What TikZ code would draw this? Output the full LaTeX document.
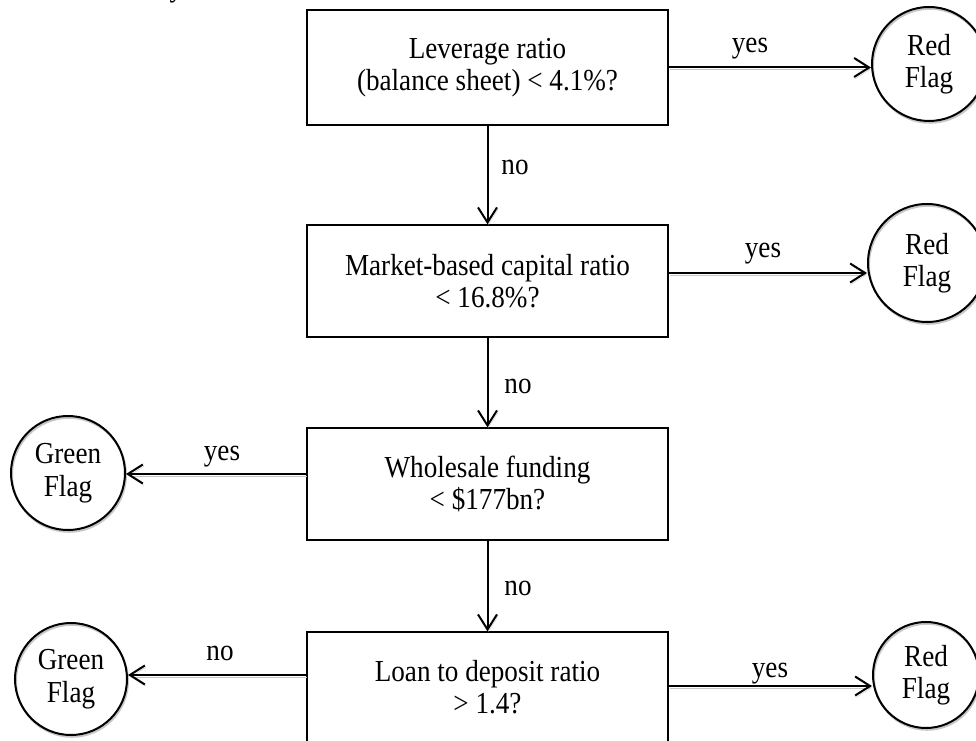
\documentclass[tikz,border=0pt]{standalone}
\usepackage{fontspec}
\setmainfont{Liberation Serif}[FakeStretch=0.89]
\usetikzlibrary{arrows.meta,calc}
\begin{document}
\begin{tikzpicture}[x=1pt,y=1pt,
  every node/.style={font=\fontsize{30.5}{32.5}\selectfont},
  qbox/.style={draw, line width=1.4pt, rectangle, minimum width=361pt, align=center, inner sep=0pt},
  flag/.style={draw, line width=2pt, circle, inner sep=0pt, align=center,
    preaction={draw=black!22, line width=2pt, transform canvas={shift={(1pt,-1.8pt)}}}},
  arr/.style={line width=2pt, -{Straight Barb[length=15pt,width=19pt,line width=2pt]},
    preaction={draw=black!22, transform canvas={shift={(1pt,-1.8pt)}}}},
  lab/.style={anchor=base}
]
\useasboundingbox (0,0) rectangle (976,740);

% fragment of a cut-off text at the top
\node[lab, anchor=base west] (frag) at (166,743) {y};

% question boxes
\node[qbox, minimum height=115pt] (b1) at (487.5,672.5) {Leverage ratio\\(balance sheet) < 4.1\%?};
\node[qbox, minimum height=112pt] (b2) at (487.5,459) {Market-based capital ratio\\< 16.8\%?};
\node[qbox, minimum height=112pt] (b3) at (487.5,256) {Wholesale funding\\< \$177bn?};
\node[qbox, minimum height=110pt] (b4) at (487.5,53) {Loan to deposit ratio\\> 1.4?};

% flags
\node[flag, minimum size=114pt] (r1) at (929,676) {Red\\Flag};
\node[flag, minimum size=118pt] (r2) at (927,477) {Red\\Flag};
\node[flag, minimum size=106pt] (r3) at (926,65) {Red\\Flag};
\node[flag, minimum size=114pt] (g1) at (68,267) {Green\\Flag};
\node[flag, minimum size=112pt] (g2) at (71,61) {Green\\Flag};

% vertical "no" connectors
\draw[arr] (b1.south) -- (b2.north);
\draw[arr] (b2.south) -- (b3.north);
\draw[arr] (b3.south) -- (b4.north);
\node[lab] (n1) at (515,565) {no};
\node[lab] (n2) at (518,347) {no};
\node[lab] (n3) at (518,145) {no};

% horizontal connectors
\draw[arr] (b1.east) -- (b1.east -| r1.west);
\node[lab] (y1) at (750,687) {yes};
\draw[arr] ([yshift=8pt]b2.east) -- ([yshift=8pt]b2.east -| r2.west);
\node[lab] (y2) at (763,482) {yes};
\draw[arr] ([yshift=10pt]b3.west) -- ([yshift=10pt]b3.west -| g1.east);
\node[lab] (y3) at (222,280) {yes};
\draw[arr] ([yshift=12pt]b4.west) -- ([yshift=12pt]b4.west -| g2.east);
\node[lab] (n4) at (220,80) {no};
\draw[arr] ([yshift=1pt]b4.east) -- ([yshift=1pt]b4.east -| r3.west);
\node[lab] (y4) at (770,63) {yes};
\end{tikzpicture}
\end{document}
